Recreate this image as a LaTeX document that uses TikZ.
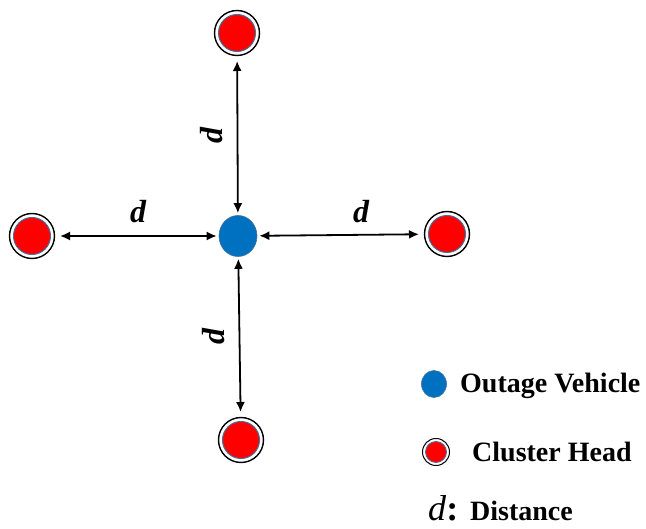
\documentclass[tikz,border=0pt]{standalone}
\usepackage{fontspec}
\setmainfont{Liberation Serif}
\usetikzlibrary{arrows.meta,shapes.geometric}
\definecolor{vehblue}{RGB}{0,112,192}
\definecolor{rimblue}{RGB}{65,113,156}

\begin{document}
\begin{tikzpicture}[
  x=1pt, y=-1pt,
  vehicle/.style={ellipse, fill=vehblue, draw=rimblue, line width=0.6pt, inner sep=0pt, minimum width=38pt, minimum height=41pt},
  head/.style={circle, fill=red, draw=rimblue, line width=1pt, inner sep=0pt, minimum size=37pt},
  dist/.style={{Latex[length=10pt,width=9pt]}-{Latex[length=10pt,width=9pt]}, line width=1.8pt, shorten <=9pt, shorten >=2pt},
  dlabel/.style={font=\fontsize{32}{34}\selectfont\bfseries\itshape},
  legtext/.style={font=\fontsize{28}{30}\selectfont\bfseries, anchor=base west, inner sep=0pt}
]
  \useasboundingbox (0,0) rectangle (646,529);

  % outage vehicle and cluster heads
  \node[vehicle] (ov) at (238,236) {};
  \node[head] (hTop) at (237,33) {};
  \node[head] (hLeft) at (32,236) {};
  \node[head] (hRight) at (447,234) {};
  \node[head] (hBottom) at (241,440) {};
  \foreach \h in {hTop,hLeft,hRight,hBottom}
    \draw[line width=1.4pt] (\h) circle [radius=22.5pt];

  % distances
  \draw[dist] (hTop) -- (ov);
  \draw[dist] (hLeft) -- (ov);
  \draw[dist] (hRight) -- (ov);
  \draw[dist] (hBottom) -- (ov);
  \node[dlabel] (dLeft) at (138,212) {d};
  \node[dlabel] (dRight) at (361,212) {d};
  \node[dlabel, rotate=90] (dTop) at (212,136) {d};
  \node[dlabel, rotate=90] (dBottom) at (214,337) {d};

  % legend
  \node[vehicle, minimum width=25pt, minimum height=27pt] (legOv) at (434,384) {};
  \node[legtext] (legOvText) at (460,393) {Outage Vehicle};
  \node[head, minimum size=21pt, line width=0.8pt] (legHead) at (436,452) {};
  \draw[line width=1pt] (legHead) circle [radius=13.5pt];
  \node[legtext] (legHeadText) at (472,462) {Cluster Head};
  \node[anchor=base west, inner sep=0pt, font=\fontsize{36}{38}\selectfont] (legD) at (428,521) {\textit{d}\textbf{:}};
  \node[legtext] (legDText) at (470,521) {Distance};
\end{tikzpicture}
\end{document}
